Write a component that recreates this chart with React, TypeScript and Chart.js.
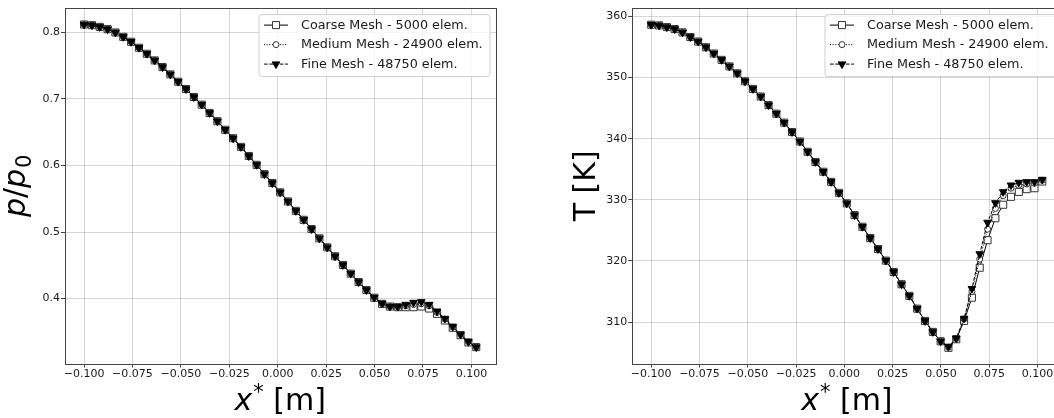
import React, { useEffect, useRef } from 'react';
import { Chart, registerables } from 'chart.js';

Chart.register(...registerables);

// ---------------- data ----------------
const X = [
  -0.1, -0.09595, -0.0919, -0.08785, -0.0838, -0.07975, -0.0757, -0.07165, -0.0676, -0.06355,
  -0.0595, -0.05545, -0.0514, -0.04735, -0.0433, -0.03925, -0.0352, -0.03115, -0.0271, -0.02305,
  -0.019, -0.01495, -0.0109, -0.00685, -0.0028, 0.00125, 0.0053, 0.00935, 0.0134, 0.01745,
  0.0215, 0.02555, 0.0296, 0.03365, 0.0377, 0.04175, 0.0458, 0.04985, 0.0539, 0.05795,
  0.062, 0.06605, 0.0701, 0.07415, 0.0782, 0.08225, 0.0863, 0.09035, 0.0944, 0.09845, 0.1025,
];

const P_COARSE = [
  0.812, 0.811, 0.8084, 0.805, 0.8, 0.7934, 0.786, 0.777, 0.768, 0.758,
  0.748, 0.737, 0.726, 0.715, 0.703, 0.6915, 0.679, 0.6666, 0.6537, 0.641,
  0.628, 0.6143, 0.601, 0.587, 0.5736, 0.5597, 0.546, 0.5318, 0.5184, 0.5045,
  0.4905, 0.477, 0.4636, 0.4505, 0.4375, 0.4248, 0.4128, 0.4012, 0.392, 0.388,
  0.387, 0.387, 0.387, 0.388, 0.385, 0.377, 0.367, 0.356, 0.345, 0.334, 0.327,
];
const P_MEDIUM = [
  0.812, 0.811, 0.8084, 0.805, 0.8, 0.7934, 0.786, 0.777, 0.768, 0.758,
  0.748, 0.737, 0.726, 0.715, 0.703, 0.6915, 0.679, 0.6666, 0.6537, 0.641,
  0.628, 0.6143, 0.601, 0.587, 0.5736, 0.5597, 0.546, 0.5318, 0.5184, 0.5045,
  0.4905, 0.477, 0.4636, 0.4505, 0.4375, 0.4248, 0.4128, 0.4014, 0.3922, 0.388,
  0.3875, 0.389, 0.391, 0.392, 0.389, 0.379, 0.369, 0.357, 0.346, 0.335, 0.327,
];
const P_FINE = [
  0.812, 0.811, 0.8084, 0.805, 0.8, 0.7934, 0.786, 0.777, 0.768, 0.758,
  0.748, 0.737, 0.726, 0.715, 0.703, 0.6915, 0.679, 0.6666, 0.6537, 0.641,
  0.628, 0.6143, 0.601, 0.587, 0.5736, 0.5597, 0.546, 0.5318, 0.5184, 0.5045,
  0.4905, 0.477, 0.4636, 0.4505, 0.4375, 0.4248, 0.4128, 0.4015, 0.3925, 0.388,
  0.388, 0.391, 0.394, 0.395, 0.391, 0.381, 0.37, 0.358, 0.346, 0.335, 0.327,
];

const T_COARSE = [
  358.65, 358.54, 358.26, 357.94, 357.4, 356.64, 355.9, 354.97, 353.94, 352.9,
  351.83, 350.7, 349.4, 348.15, 346.9, 345.5, 344.1, 342.63, 341.1, 339.55,
  337.87, 336.2, 334.6, 332.94, 331.15, 329.43, 327.5, 325.6, 323.75, 321.96,
  320.06, 318.2, 316.2, 314.3, 312.2, 310.2, 308.4, 306.87, 305.8, 307.2,
  310.2, 314.0, 318.9, 323.4, 327.0, 329.2, 330.5, 331.3, 331.75, 331.9, 333.0,
];
const T_MEDIUM = [
  358.65, 358.54, 358.26, 357.94, 357.4, 356.64, 355.9, 354.97, 353.94, 352.9,
  351.83, 350.7, 349.4, 348.15, 346.9, 345.5, 344.1, 342.63, 341.1, 339.55,
  337.87, 336.2, 334.6, 332.94, 331.15, 329.43, 327.5, 325.6, 323.75, 321.96,
  320.06, 318.2, 316.2, 314.3, 312.2, 310.2, 308.4, 306.87, 305.9, 307.3,
  310.5, 315.0, 320.3, 325.2, 328.6, 330.7, 331.9, 332.4, 332.6, 332.7, 333.2,
];
const T_FINE = [
  358.65, 358.54, 358.26, 357.94, 357.4, 356.64, 355.9, 354.97, 353.94, 352.9,
  351.83, 350.7, 349.4, 348.15, 346.9, 345.5, 344.1, 342.63, 341.1, 339.55,
  337.87, 336.2, 334.6, 332.94, 331.15, 329.43, 327.5, 325.6, 323.75, 321.96,
  320.06, 318.2, 316.2, 314.3, 312.2, 310.2, 308.4, 306.87, 306.0, 307.35,
  310.6, 315.47, 321.15, 326.3, 329.5, 331.3, 332.4, 332.84, 332.94, 332.94, 333.33,
];

const X_TICKS = [-0.1, -0.075, -0.05, -0.025, 0, 0.025, 0.05, 0.075, 0.1];
const P_TICKS = [0.4, 0.5, 0.6, 0.7, 0.8];
const T_TICKS = [310, 320, 330, 340, 350, 360];

const SERIES_LABELS = [
  'Coarse Mesh - 5000 elem.',
  'Medium Mesh - 24900 elem.',
  'Fine Mesh - 48750 elem.',
];

// ---------------- styles ----------------
const FONT = "'DejaVu Sans', 'Liberation Sans', sans-serif";
const GRID = 'rgba(0,0,0,0.16)';
const SPINE = '#444';
const TEXT = '#1a1a1a';
const TICK_SIZE = 11;
const LEGEND_SIZE = 12.75;

type Sty = {
  dash: number[];
  point: 'rect' | 'circle' | 'triangle';
  radius: number;
  rot: number;
  fill: string;
  edge: string;
};
const STYLES: Sty[] = [
  { dash: [], point: 'rect', radius: 5, rot: 0, fill: '#ffffff', edge: '#333' },
  { dash: [1, 1.65], point: 'circle', radius: 3, rot: 0, fill: '#ffffff', edge: '#333' },
  { dash: [3.7, 1.6], point: 'triangle', radius: 4.4, rot: 180, fill: '#000', edge: '#000' },
];

function drawMarker(ctx: CanvasRenderingContext2D, s: Sty, x: number, y: number) {
  ctx.save();
  ctx.setLineDash([]);
  ctx.beginPath();
  if (s.point === 'rect') {
    const h = s.radius * Math.SQRT1_2;
    ctx.rect(x - h, y - h, 2 * h, 2 * h);
  } else if (s.point === 'circle') {
    ctx.arc(x, y, s.radius, 0, Math.PI * 2);
  } else {
    let rad = (s.rot * Math.PI) / 180;
    const r = s.radius;
    ctx.moveTo(x + Math.sin(rad) * r, y - Math.cos(rad) * r);
    rad += (2 * Math.PI) / 3;
    ctx.lineTo(x + Math.sin(rad) * r, y - Math.cos(rad) * r);
    rad += (2 * Math.PI) / 3;
    ctx.lineTo(x + Math.sin(rad) * r, y - Math.cos(rad) * r);
    ctx.closePath();
  }
  ctx.fillStyle = s.fill;
  ctx.fill();
  ctx.lineWidth = 1;
  ctx.strokeStyle = s.edge;
  ctx.stroke();
  ctx.restore();
}

type Piece = { text: string; font: string; dy?: number; dx?: number };

function drawPieces(ctx: CanvasRenderingContext2D, pieces: Piece[], cx: number, baseY: number) {
  let total = 0;
  const widths = pieces.map((p) => {
    ctx.font = p.font;
    const w = ctx.measureText(p.text).width + (p.dx || 0);
    total += w;
    return w;
  });
  let x = cx - total / 2;
  ctx.textBaseline = 'alphabetic';
  ctx.textAlign = 'left';
  pieces.forEach((p, i) => {
    ctx.font = p.font;
    ctx.fillText(p.text, x + (p.dx || 0), baseY + (p.dy || 0));
    x += widths[i];
  });
}

type Decor = {
  yPieces: Piece[];
  yBaseX: number;
};

function makeDecorPlugin(d: Decor) {
  return {
    id: 'decor',
    afterDraw(chart: any) {
      const ctx: CanvasRenderingContext2D = chart.ctx;
      const a = chart.chartArea;
      ctx.save();
      // frame (spines)
      ctx.strokeStyle = SPINE;
      ctx.lineWidth = 1;
      ctx.setLineDash([]);
      ctx.strokeRect(Math.round(a.left) + 0.5, Math.round(a.top) + 0.5,
        Math.round(a.right) - Math.round(a.left), Math.round(a.bottom) - Math.round(a.top));

      // x label: x* [m]
      ctx.fillStyle = '#000';
      const cx = (a.left + a.right) / 2;
      drawPieces(ctx, [
        { text: 'x', font: `oblique 30px ${FONT}` },
        { text: '*', font: `21px ${FONT}`, dy: -11, dx: 1 },
        { text: ' [m]', font: `30px ${FONT}` },
      ], cx, 409.5);

      // y label (rotated)
      ctx.save();
      ctx.translate(d.yBaseX, (a.top + a.bottom) / 2);
      ctx.rotate(-Math.PI / 2);
      drawPieces(ctx, d.yPieces, 0, 0);
      ctx.restore();

      // legend
      const bw = 231;
      const bh = 62;
      const bx = a.right - 6 - bw;
      const by = a.top + 7;
      ctx.beginPath();
      const r = 3;
      ctx.moveTo(bx + r, by);
      ctx.lineTo(bx + bw - r, by);
      ctx.arcTo(bx + bw, by, bx + bw, by + r, r);
      ctx.lineTo(bx + bw, by + bh - r);
      ctx.arcTo(bx + bw, by + bh, bx + bw - r, by + bh, r);
      ctx.lineTo(bx + r, by + bh);
      ctx.arcTo(bx, by + bh, bx, by + bh - r, r);
      ctx.lineTo(bx, by + r);
      ctx.arcTo(bx, by, bx + r, by, r);
      ctx.closePath();
      ctx.fillStyle = 'rgba(255,255,255,0.8)';
      ctx.fill();
      ctx.strokeStyle = '#d0d0d0';
      ctx.lineWidth = 1;
      ctx.stroke();

      const rows = [10.5, 30, 49.5];
      SERIES_LABELS.forEach((label, i) => {
        const s = STYLES[i];
        const yy = by + rows[i];
        ctx.save();
        ctx.strokeStyle = '#000';
        ctx.lineWidth = 1;
        ctx.setLineDash(s.dash);
        ctx.beginPath();
        ctx.moveTo(bx + 5, yy);
        ctx.lineTo(bx + 29, yy);
        ctx.stroke();
        ctx.restore();
        drawMarker(ctx, s, bx + 17, yy);
        ctx.fillStyle = TEXT;
        ctx.font = `${LEGEND_SIZE}px ${FONT}`;
        ctx.textAlign = 'left';
        ctx.textBaseline = 'middle';
        ctx.fillText(label, bx + 42, yy + 0.5);
      });
      ctx.restore();
    },
  };
}

function fmtX(v: number) {
  const s = Math.abs(v) < 1e-9 ? '0.000' : v.toFixed(3);
  return s.replace('-', '\u2212');
}

type PanelProps = {
  series: number[][];
  yTicks: number[];
  yMin: number;
  yMax: number;
  yFmt: (v: number) => string;
  yWidth: number;
  padRight: number;
  width: number;
  left: number;
  decor: Decor;
};

function Panel(props: PanelProps) {
  const ref = useRef<HTMLCanvasElement | null>(null);
  useEffect(() => {
    if (!ref.current) return;
    const datasets = props.series.map((vals, i) => {
      const s = STYLES[i];
      return {
        label: SERIES_LABELS[i],
        data: X.map((x, k) => ({ x, y: vals[k] })),
        borderColor: '#000',
        borderWidth: 1,
        borderDash: s.dash,
        backgroundColor: s.fill,
        pointStyle: s.point,
        pointRadius: s.radius,
        pointRotation: s.rot,
        pointBackgroundColor: s.fill,
        pointBorderColor: s.edge,
        pointBorderWidth: 1,
        tension: 0,
        fill: false,
        order: 3 - i,
      };
    });
    const chart = new Chart(ref.current, {
      type: 'line',
      data: { datasets },
      options: {
        animation: false,
        responsive: false,
        maintainAspectRatio: false,
        layout: { padding: { left: 0, top: 6.7, right: props.padRight, bottom: 0 } },
        plugins: { legend: { display: false }, tooltip: { enabled: false } },
        scales: {
          x: {
            type: 'linear',
            min: -0.1101,
            max: 0.1127,
            afterBuildTicks: (scale: any) => {
              scale.ticks = X_TICKS.map((v) => ({ value: v }));
            },
            afterFit: (scale: any) => {
              scale.height = 54;
            },
            grid: {
              color: GRID,
              lineWidth: 1,
              drawTicks: true,
              tickLength: 3.5,
              tickColor: SPINE,
            },
            border: { display: false },
            ticks: {
              callback: (v: any) => fmtX(Number(v)),
              font: { family: FONT, size: TICK_SIZE },
              color: TEXT,
              padding: 0,
              maxRotation: 0,
              autoSkip: false,
            },
          },
          y: {
            type: 'linear',
            min: props.yMin,
            max: props.yMax,
            afterBuildTicks: (scale: any) => {
              scale.ticks = props.yTicks.map((v) => ({ value: v }));
            },
            afterFit: (scale: any) => {
              scale.width = props.yWidth;
            },
            grid: {
              color: GRID,
              lineWidth: 1,
              drawTicks: true,
              tickLength: 3.5,
              tickColor: SPINE,
            },
            border: { display: false },
            ticks: {
              callback: (v: any) => props.yFmt(Number(v)),
              font: { family: FONT, size: TICK_SIZE },
              color: TEXT,
              padding: 1,
              autoSkip: false,
            },
          },
        },
      },
      plugins: [makeDecorPlugin(props.decor)],
    } as any);
    return () => chart.destroy();
  }, []);
  return (
    <canvas
      ref={ref}
      width={props.width}
      height={418}
      style={{ position: 'absolute', left: props.left, top: 0, width: props.width, height: 418 }}
    />
  );
}

export default function App() {
  return (
    <div
      style={{
        position: 'fixed',
        left: 0,
        top: 0,
        width: 1054,
        height: 418,
        overflow: 'hidden',
        background: '#fff',
      }}
    >
      <Panel
        series={[P_COARSE, P_MEDIUM, P_FINE]}
        yTicks={P_TICKS}
        yMin={0.3016}
        yMax={0.8374}
        yFmt={(v) => v.toFixed(1)}
        yWidth={64.5}
        padRight={34}
        width={530}
        left={0}
        decor={{
          yBaseX: 25,
          yPieces: [
            { text: 'p', font: `oblique 30px ${FONT}` },
            { text: '/', font: `30px ${FONT}` },
            { text: 'p', font: `oblique 30px ${FONT}` },
            { text: '0', font: `21px ${FONT}`, dy: 6, dx: 1 },
          ],
        }}
      />
      <Panel
        series={[T_COARSE, T_MEDIUM, T_FINE]}
        yTicks={T_TICKS}
        yMin={303.15}
        yMax={361.45}
        yFmt={(v) => String(Math.round(v))}
        yWidth={91.7}
        padRight={18}
        width={540}
        left={540}
        decor={{
          yBaseX: 55,
          yPieces: [{ text: 'T [K]', font: `30px ${FONT}` }],
        }}
      />
    </div>
  );
}
